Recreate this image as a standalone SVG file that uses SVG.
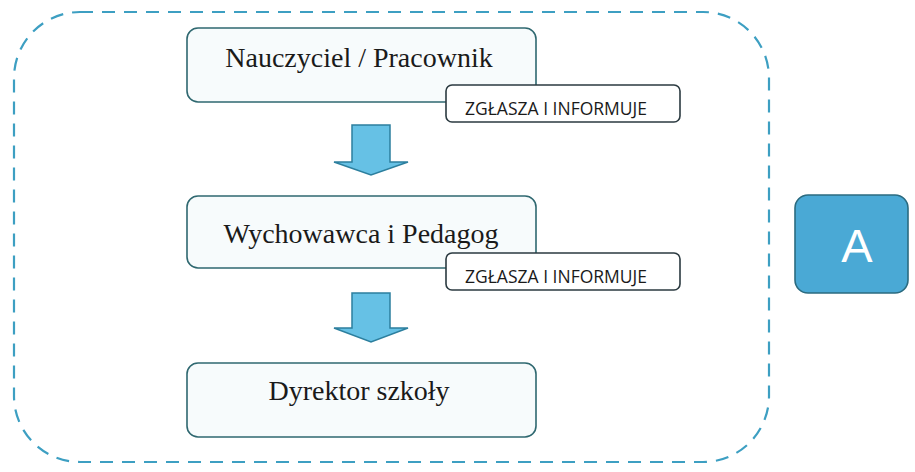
<svg xmlns="http://www.w3.org/2000/svg" width="915" height="472" viewBox="0 0 915 472">
<style>
.frame{fill:none;stroke:#3d9fc2;stroke-width:2.2;stroke-dasharray:13 9}
.node{fill:#f7fbfc;stroke:#2f6870;stroke-width:1.6}
.lbl{fill:#ffffff;stroke:#2b3a40;stroke-width:1.6}
.ntext{font-family:"Liberation Serif",serif;font-size:28px;fill:#1a1a1a;text-anchor:middle}
.ltext{font-family:"Open Sans","Liberation Sans",sans-serif;font-size:17.5px;fill:#1a1a1a;text-anchor:middle}
.arrow{fill:#66c1e5;stroke:#2c7f9e;stroke-width:1.5;stroke-linejoin:miter}
</style>
<rect x="0" y="0" width="915" height="472" fill="#ffffff"/>
<rect class="frame" x="14" y="12" width="755" height="450" rx="66" ry="66"/>
<g id="node1">
<rect class="node" x="187" y="28" width="349" height="74" rx="11"/>
<text class="ntext" x="359" y="67">Nauczyciel / Pracownik</text>
</g>
<g id="label1">
<rect class="lbl" x="446" y="85" width="234" height="37" rx="6"/>
<text class="ltext" x="556" y="115">ZGŁASZA I INFORMUJE</text>
</g>
<g id="node2">
<rect class="node" x="187" y="196" width="349" height="72" rx="11"/>
<text class="ntext" x="361" y="243">Wychowawca i Pedagog</text>
</g>
<g id="label2">
<rect class="lbl" x="446" y="253" width="234" height="37" rx="6"/>
<text class="ltext" x="556" y="283">ZGŁASZA I INFORMUJE</text>
</g>
<g id="node3">
<rect class="node" x="187" y="363" width="349" height="74" rx="11"/>
<text class="ntext" x="359" y="400">Dyrektor szkoły</text>
</g>
<g id="connectors">
<polygon class="arrow" points="352,125 390,125 390,162 408,162 371,175 334,162 352,162"/>
<polygon class="arrow" points="352,293 390,293 390,328 408,328 371,342 334,328 352,328"/>
</g>
<g id="nodeA">
<rect x="795" y="195" width="113" height="98" rx="13" fill="#4aa9d5" stroke="#2b6b80" stroke-width="1.6"/>
<text x="857" y="262" font-family="Liberation Sans,sans-serif" font-size="47" fill="#ffffff" text-anchor="middle">A</text>
</g>
</svg>
